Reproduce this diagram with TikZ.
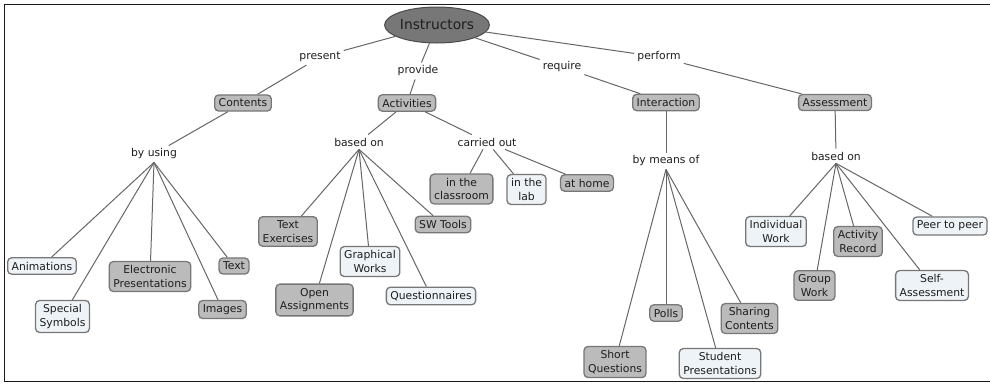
\documentclass[tikz,border=0pt]{standalone}
\usepackage{fontspec}
\setmainfont{DejaVu Sans}
\usetikzlibrary{shapes.geometric}
\definecolor{darkbox}{HTML}{BBBBBB}
\definecolor{lightbox}{HTML}{EEF3F7}
\definecolor{boxline}{HTML}{777777}
\definecolor{linkline}{HTML}{666666}
\definecolor{ink}{HTML}{1E1E1E}
\definecolor{rootfill}{HTML}{777777}
\definecolor{rootline}{HTML}{4A4A4A}
\definecolor{frameline}{HTML}{1A1A1A}

\begin{document}
\begin{tikzpicture}[x=1pt,y=-1pt,
  every node/.style={font=\fontsize{10.8}{13.5}\selectfont, text=ink, align=center},
  concept/.style={draw=boxline, line width=1.3pt, rounded corners=4pt,
                  inner xsep=4pt, inner ysep=4pt},
  dark/.style={concept, fill=darkbox},
  light/.style={concept, fill=lightbox},
  linkph/.style={inner sep=3pt},
  root/.style={ellipse, draw=rootline, line width=1pt, fill=rootfill,
               minimum width=90pt, minimum height=36pt, inner sep=0pt,
               font=\fontsize{13.8}{16}\selectfont},
  conn/.style={draw=linkline, line width=1pt}
]
\useasboundingbox (0,0) rectangle (990,383);

% frame
\draw[frameline, line width=1.6pt] (990,4.5) -- (4.5,4.5) -- (4.5,381.5) -- (990,381.5);

% root
\node[root] (instr) at (437,25) {Instructors};

% linking phrases, first level
\node[linkph] (present) at (320,57) {present};
\node[linkph] (provide) at (418,71) {provide};
\node[linkph] (require) at (562,67) {require};
\node[linkph] (perform) at (659,57) {perform};

% main concepts
\node[dark] (contents) at (243,103) {Contents};
\node[dark] (activities) at (407,103) {Activities};
\node[dark] (interaction) at (666,102.5) {Interaction};
\node[dark] (assessment) at (835,102.5) {Assessment};

% linking phrases, second level
\node[linkph] (byusing) at (154,154) {by using};
\node[linkph] (basedA) at (359,142) {based on};
\node[linkph] (carried) at (487,142) {carried out};
\node[linkph] (bymeans) at (666,161) {by means of};
\node[linkph] (basedB) at (836,156) {based on};

% contents
\node[light] (anim) at (42,266) {Animations};
\node[light] (symbols) at (62.5,316.5) {Special\\Symbols};
\node[dark] (elec) at (150,276.5) {Electronic\\Presentations};
\node[dark] (text) at (234,266) {Text};
\node[dark] (images) at (222.5,309.5) {Images};

% activities
\node[dark] (textex) at (288,231.5) {Text\\Exercises};
\node[dark] (open) at (314.5,300) {Open\\Assignments};
\node[light] (graph) at (370,261.5) {Graphical\\Works};
\node[light] (quest) at (431,296) {Questionnaires};
\node[dark] (sw) at (443,224.5) {SW Tools};
\node[dark] (classroom) at (461.5,189) {in the\\classroom};
\node[light] (lab) at (526.5,189.5) {in the\\lab};
\node[dark] (home) at (587,183) {at home};

% interaction
\node[dark] (short) at (615,362) {Short\\Questions};
\node[dark] (polls) at (666,313) {Polls};
\node[light] (student) at (720,363.5) {Student\\Presentations};
\node[dark] (sharing) at (749.5,318.5) {Sharing\\Contents};

% assessment
\node[light] (indiv) at (776,231.5) {Individual\\Work};
\node[dark] (group) at (814.5,285.5) {Group\\Work};
\node[dark] (record) at (858,241.5) {Activity\\Record};
\node[light] (self) at (932,285.5) {Self-\\Assessment};
\node[light] (peer) at (950,226) {Peer to peer};

% connectors
\draw[conn] (instr) -- (present) -- (contents);
\draw[conn] (instr) -- (provide) -- (activities);
\draw[conn] (instr) -- (require) -- (interaction);
\draw[conn] (instr) -- (perform) -- (assessment);

\draw[conn] (contents) -- (byusing);
\draw[conn] (activities) -- (basedA);
\draw[conn] (activities) -- (carried);
\draw[conn] (interaction) -- (bymeans);
\draw[conn] (assessment) -- (basedB);

\foreach \t in {anim,symbols,elec,images,text}
  \draw[conn] (byusing.south) -- (\t);
\foreach \t in {textex,open,graph,quest,sw}
  \draw[conn] (basedA.south) -- (\t);
\foreach \t in {classroom,lab,home}
  \draw[conn] (carried) -- (\t);
\foreach \t in {short,polls,student,sharing}
  \draw[conn] (bymeans.south) -- (\t);
\foreach \t in {indiv,group,record,self,peer}
  \draw[conn] (basedB.south) -- (\t);
\end{tikzpicture}
\end{document}
